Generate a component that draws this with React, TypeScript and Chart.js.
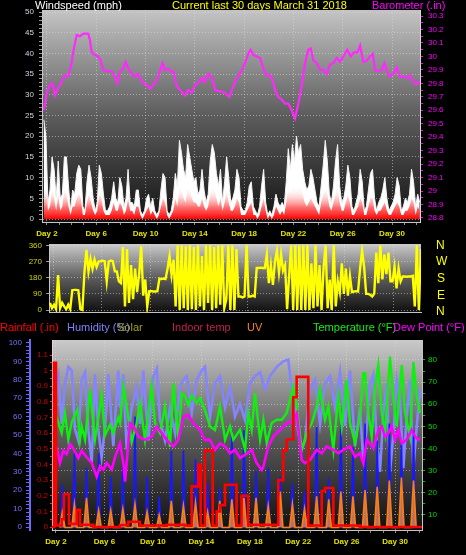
import React, { useEffect, useRef } from "react";
import { Chart, registerables } from "chart.js";

Chart.register(...registerables);
Chart.defaults.font.family = "'Liberation Sans', Arial, sans-serif";

// ---------- axis labels ----------
const DAY_TICKS = [2, 6, 10, 14, 18, 22, 26, 30];
const DAY_MINOR = [2, 3, 4, 5, 6, 7, 8, 9, 10, 11, 12, 13, 14, 15, 16, 17, 18, 19, 20, 21, 22, 23, 24, 25, 26, 27, 28, 29, 30, 31, 32];
const WIND_TICKS = [0, 5, 10, 15, 20, 25, 30, 35, 40, 45, 50];
const BARO_TICKS = [28.8, 28.9, 29, 29.1, 29.2, 29.3, 29.4, 29.5, 29.6, 29.7, 29.8, 29.9, 30, 30.1, 30.2, 30.3];
const DIR_TICKS = [0, 90, 180, 270, 360];
const HUM_TICKS = [0, 10, 20, 30, 40, 50, 60, 70, 80, 90, 100];
const RAIN_TICKS = [0, 0.1, 0.2, 0.3, 0.4, 0.5, 0.6, 0.7, 0.8, 0.9, 1, 1.1];
const TEMP_TICKS = [10, 20, 30, 40, 50, 60, 70, 80];

// ---------- 4-hourly samples (day of March) ----------
const SAMPLE_START = 1.75;
const SAMPLE_STEP = 1 / 6;

const windGust = [
  24, 20, 4, 7, 15, 12, 5, 14, 5, 6, 15, 15, 8, 2, 7, 6, 11, 13, 12, 3,
  2, 9, 13, 10, 5, 2, 4, 13, 11, 6, 2, 2, 3, 5, 9, 5, 4, 10, 8, 3,
  5, 12, 4, 4, 3, 7, 7, 2, 1, 2, 5, 6, 3, 5, 2, 1, 2, 7, 11, 10,
  2, 1, 2, 5, 11, 8, 19, 16, 12, 10, 18, 15, 12, 9, 10, 6, 7, 12, 7, 4,
  6, 14, 18, 16, 11, 8, 12, 4, 9, 15, 10, 4, 5, 7, 12, 10, 3, 2, 2, 4,
  8, 9, 3, 2, 1, 3, 8, 12, 4, 1, 2, 1, 3, 6, 4, 3, 4, 3, 9, 17,
  12, 18, 14, 20, 16, 18, 12, 9, 7, 8, 12, 10, 7, 4, 3, 8, 13, 19, 14, 6,
  4, 8, 14, 18, 8, 4, 5, 8, 13, 10, 3, 2, 4, 6, 12, 9, 2, 3, 7, 11,
  12, 5, 2, 4, 5, 7, 10, 5, 2, 3, 4, 6, 10, 8, 2, 3, 5, 4, 6, 12,
  9, 3, 6, 4,
];
const windSpeed = [
  14, 10, 2, 3, 7, 5, 2, 6, 2, 3, 7, 6, 3, 1, 3, 3, 5, 6, 5, 1,
  1, 4, 6, 4, 2, 1, 2, 6, 5, 2, 1, 1, 1, 2, 4, 2, 2, 4, 3, 1,
  2, 5, 2, 2, 1, 3, 3, 1, 0, 1, 2, 3, 1, 2, 1, 0, 1, 3, 5, 4,
  1, 0, 1, 2, 5, 3, 8, 7, 5, 4, 8, 7, 5, 4, 4, 3, 3, 5, 3, 2,
  3, 6, 8, 7, 5, 3, 5, 2, 4, 7, 4, 2, 2, 3, 5, 4, 1, 1, 1, 2,
  3, 4, 1, 1, 0, 1, 3, 5, 2, 0, 1, 0, 1, 3, 2, 1, 2, 1, 4, 8,
  6, 9, 7, 10, 8, 9, 6, 4, 3, 4, 5, 4, 3, 2, 1, 4, 6, 9, 6, 3,
  2, 4, 6, 8, 4, 2, 2, 4, 6, 4, 1, 1, 2, 3, 5, 4, 1, 1, 3, 5,
  5, 2, 1, 2, 2, 3, 4, 2, 1, 1, 2, 3, 4, 3, 1, 1, 2, 2, 3, 5,
  4, 1, 3, 2,
];
const windDir = [
  40, 10, 30, 5, 195, 10, 40, 20, 5, 30, 5, 110, 112, 112, 110, 5, 0, 210, 335, 215,
  285, 230, 280, 240, 270, 272, 275, 272, 160, 270, 275, 272, 215, 215, 160, 150, 350, 20, 340, 40,
  250, 60, 230, 100, 200, 355, 80, 170, 20, 105, 105, 103, 103, 105, 175, 172, 175, 172, 230, 300,
  195, 280, 20, 360, 0, 360, 10, 355, 0, 360, 5, 350, 0, 360, 20, 300, 0, 360, 40, 360,
  0, 350, 10, 360, 30, 360, 10, 60, 360, 0, 360, 0, 340, 75, 75, 70, 75, 360, 75, 75,
  80, 75, 234, 234, 236, 234, 234, 310, 150, 250, 140, 270, 330, 210, 310, 220, 250, 5, 190, 360,
  0, 360, 0, 360, 0, 360, 0, 360, 0, 260, 10, 360, 20, 250, 0, 240, 360, 10, 170, 0,
  360, 20, 160, 100, 260, 90, 230, 80, 190, 100, 103, 105, 103, 230, 330, 240, 90, 90, 85, 75,
  92, 320, 150, 360, 170, 310, 200, 320, 160, 160, 240, 120, 230, 160, 187, 187, 185, 187, 187, 190,
  20, 360, 0, 340,
];

// ---------- barometer ----------
const baroDays = [
  1.76, 1.98, 2.24, 2.46, 2.65, 2.92, 3.19, 3.46, 3.73, 4.0, 4.13, 4.41, 4.68, 4.95, 5.35, 5.49, 5.63, 5.9, 6.16, 6.36,
  6.57, 6.85, 7.25, 7.52, 7.71, 7.93, 8.19, 8.39, 8.6, 8.88, 9.14, 9.41, 9.69, 10.09, 10.36, 10.63, 10.9, 11.17, 11.39, 11.58,
  11.85, 12.04, 12.25, 12.53, 12.8, 13.2, 13.47, 13.75, 14.01, 14.28, 14.56, 14.82, 15.09, 15.37, 15.64, 16.04, 16.45, 16.8, 17.26, 17.53,
  17.8, 18.07, 18.34, 18.53, 18.75, 19.02, 19.29, 19.56, 19.83, 20.1, 20.32, 20.51, 20.77, 21.05, 21.32, 21.59, 21.86, 22.13, 22.4, 22.67,
  22.94, 23.21, 23.4, 23.62, 23.89, 24.16, 24.43, 24.7, 24.97, 25.24, 25.51, 25.78, 26.05, 26.37, 26.65, 26.92, 27.19, 27.41, 27.67, 27.95,
  28.22, 28.44, 28.62, 28.89, 29.17, 29.38, 29.57, 29.78, 30.11, 30.38, 30.65, 30.92, 31.2, 31.46, 31.73, 31.95, 32.22,
];
const baroValues = [
  29.6, 29.73, 29.79, 29.8, 29.71, 29.77, 29.81, 29.86, 29.85, 29.95, 30.03, 30.16, 30.15, 30.17, 30.17, 30.12, 30.03, 30.01, 30.0, 29.97,
  29.9, 29.89, 29.89, 29.85, 29.8, 29.89, 29.91, 29.96, 29.91, 29.87, 29.85, 29.87, 29.81, 29.79, 29.76, 29.79, 29.82, 29.89, 29.95, 29.9,
  29.91, 29.89, 29.89, 29.78, 29.75, 29.71, 29.75, 29.73, 29.79, 29.8, 29.84, 29.81, 29.87, 29.85, 29.75, 29.74, 29.73, 29.7, 29.81, 29.86,
  29.89, 29.95, 30.02, 30.05, 30.01, 30.0, 29.99, 29.91, 29.86, 29.86, 29.82, 29.75, 29.7, 29.68, 29.65, 29.65, 29.6, 29.54, 29.65, 29.78,
  29.95, 30.05, 30.06, 29.97, 29.95, 29.9, 29.9, 29.87, 29.94, 29.95, 29.99, 29.96, 30.0, 30.05, 30.0, 30.03, 30.03, 30.08, 29.96, 29.97,
  30.0, 30.02, 29.9, 29.89, 29.9, 29.95, 29.9, 29.85, 29.87, 29.92, 29.85, 29.85, 29.84, 29.86, 29.81, 29.79, 29.82,
];

// ---------- temperature / dew point / humidity ----------
const tempDays = [
  1.78, 2.06, 2.47, 2.74, 3.02, 3.3, 3.76, 3.98, 4.12, 4.4, 4.58, 4.81, 5.22, 5.55, 5.77, 6.05, 6.46, 6.73, 7.14, 7.29,
  7.56, 7.84, 8.25, 8.66, 8.94, 9.35, 9.9, 10.18, 10.59, 11.0, 11.41, 11.69, 12.1, 12.38, 12.65, 12.93, 13.21, 13.62, 13.89, 14.3,
  14.72, 15.13, 15.54, 15.96, 16.37, 16.64, 17.19, 17.61, 17.88, 18.16, 18.43, 18.85, 19.12, 19.4, 19.81, 20.23, 20.64, 21.05, 21.46, 21.6,
  21.88, 22.29, 22.7, 23.12, 23.53, 23.8, 24.21, 24.49, 24.9, 25.31, 25.59, 26.01, 26.28, 26.69, 27.1, 27.38, 27.52, 27.79, 28.07, 28.34,
  28.61, 28.9, 29.17, 29.58, 29.85, 30.13, 30.55, 30.82, 31.23, 31.51, 31.79, 32.06,
];
const tempValues = [
  50.6, 54, 47, 56, 44, 52, 57.5, 44, 50, 44, 54, 66.5, 44, 56, 64, 46, 50.7, 47, 54, 51.6,
  68, 59, 43, 51.5, 60.6, 44, 68, 51.5, 47, 59, 40.8, 69.5, 44, 65, 63.5, 59.7, 64, 60.6, 62.8, 57.4,
  49.9, 48.4, 59, 44, 50, 44, 48.4, 39.4, 56, 48.4, 65, 44, 53, 42.5, 51.5, 53, 53, 56, 65, 68,
  59, 39.4, 47, 51.5, 59, 66.5, 53, 59, 39.4, 63.5, 50, 71, 51.5, 42.5, 54.6, 74, 74, 56, 45.4, 68,
  77.7, 56, 47, 81.5, 63.4, 50, 77.7, 56, 45.4, 79, 63.4, 56,
];
const dewDays = [
  1.78, 2.06, 2.33, 2.6, 2.88, 3.16, 3.43, 3.84, 4.12, 4.54, 4.95, 5.36, 5.63, 5.91, 6.19, 6.6, 6.87, 7.29, 7.56, 7.7,
  8.11, 8.38, 8.8, 9.35, 9.9, 10.31, 10.73, 11.14, 11.69, 12.1, 12.51, 12.93, 13.34, 13.89, 14.3, 14.72, 15.13, 15.54, 15.96, 16.37,
  16.78, 17.19, 17.61, 18.16, 18.57, 18.99, 19.12, 19.53, 19.94, 20.5, 21.05, 21.6, 21.88, 22.29, 22.56, 22.97, 23.53, 23.94, 24.35, 24.9,
  25.31, 25.72, 26.28, 26.69, 27.1, 27.38, 27.66, 27.93, 28.2, 28.61, 28.9, 29.17, 29.44, 29.72, 29.99, 30.27, 30.55, 30.96, 31.37, 31.65,
  31.92, 32.06,
];
const dewValues = [
  41.6, 40.6, 33.5, 39, 37.5, 42, 40, 35.7, 39, 36, 33.5, 27.3, 32, 30.5, 33.5, 30.5, 36, 42.4, 33.4, 25,
  51.4, 50.3, 45.4, 43.9, 45.4, 49.9, 47, 43.9, 40.9, 43.9, 54.4, 55.1, 51.4, 48.4, 43.9, 43.9, 39.4, 42.4, 40.9, 37.9,
  39.4, 35.7, 37.1, 39.4, 33.4, 30.3, 31.8, 40.9, 45.4, 48.4, 51.4, 52.8, 55.8, 34.8, 33.4, 34.8, 39.4, 37.9, 40.9, 39.4,
  37.9, 39.4, 40.9, 36.3, 37.9, 33.3, 43.9, 42.4, 40.1, 48.4, 50, 45.4, 46.9, 50, 43.9, 48.4, 42.4, 43.9, 48.4, 45.4,
  43.9, 44.6,
];
const humDays = [
  1.78, 2.19, 2.47, 2.74, 3.02, 3.3, 3.57, 3.84, 4.12, 4.4, 4.67, 4.95, 5.22, 5.49, 5.77, 6.05, 6.32, 6.73, 7.14, 7.29,
  7.56, 7.84, 8.25, 8.66, 8.94, 9.21, 9.63, 10.04, 10.32, 10.59, 11.0, 11.41, 11.83, 12.24, 12.51, 12.79, 13.21, 13.62, 14.03, 14.3,
  14.72, 15.13, 15.54, 15.96, 16.37, 16.78, 17.19, 17.61, 18.02, 18.43, 18.85, 19.26, 19.67, 20.23, 20.77, 21.18, 21.46, 21.73, 22.01, 22.29,
  22.56, 22.97, 23.39, 23.8, 24.21, 24.63, 25.04, 25.45, 25.86, 26.28, 26.69, 27.1, 27.38, 27.66, 27.93, 28.2, 28.48, 28.75, 29.03, 29.31,
  29.58, 29.85, 30.13, 30.4, 30.68, 30.96, 31.23, 31.51, 31.79, 32.06,
];
const humValues = [
  74, 83, 56, 78, 87, 85, 53, 47, 80, 84, 53, 35, 83, 53, 38, 54, 83, 44, 85, 65,
  83, 42, 65, 76, 56, 85, 47, 82, 86, 58, 47, 65, 51, 76, 80, 82, 62, 80, 85, 87,
  60, 78, 82, 65, 76, 60, 67, 58, 78, 82, 84, 75, 82, 87, 90, 91, 75, 71, 51, 42,
  47, 75, 80, 56, 78, 82, 65, 84, 55, 85, 44, 65, 35, 55, 78, 83, 47, 30, 62, 78,
  30, 50, 80, 70, 32, 60, 80, 32, 55, 75,
];

// ---------- rainfall (step) ----------
const rainDays = [
  1.67, 1.84, 2.0, 2.47, 2.66, 3.07, 3.71, 3.98, 5.08, 7.28, 7.97, 8.93, 11.14, 12.65, 13.2, 13.75, 13.95, 14.3,
  14.94, 15.27, 15.54, 15.95, 16.91, 17.32, 17.87, 20.35, 20.76, 21.04, 21.59, 21.87, 22.83, 23.94, 24.21, 24.9, 27.1, 32.22,
];
const rainValues = [
  0, 1.05, 0.01, 0.05, 0.21, 0.02, 0.11, 0.015, 0, 0.013, 0.034, 0.01, 0.015, 0.01, 0.26, 0.4, 0.01, 0.49,
  0.01, 0.1, 0.14, 0.27, 0.01, 0.2, 0.015, 0.3, 0.49, 0.56, 0.83, 0.96, 0.01, 0.23, 0.25, 0.01, 0, 0,
];

// ---------- solar / UV daily peaks (Day 2 .. Day 31) ----------
const SUN_DAYS = [2, 3, 4, 5, 6, 7, 8, 9, 10, 11, 12, 13, 14, 15, 16, 17, 18, 19, 20, 21, 22, 23, 24, 25, 26, 27, 28, 29, 30, 31];
const solarPeaks = [250, 435, 350, 435, 300, 400, 650, 300, 180, 450, 450, 400, 260, 230, 570, 570, 335, 350, 300, 260, 215, 590, 290, 610, 470, 610, 510, 610, 510, 570];
const uvPeaks = [1.0, 1.5, 1.9, 1.1, 1.1, 1.2, 1.5, 1.0, 0.8, 1.7, 1.4, 1.6, 1.0, 1.7, 1.8, 1.9, 1.9, 1.4, 2.3, 1.5, 1.2, 2.0, 1.8, 2.3, 2.0, 2.4, 2.6, 3.0, 3.2, 3.0];
const SOLAR_WINDOW = [0.38, 0.52, 0.66];
const UV_WINDOW = [0.3, 0.52, 0.74];

// ---------- helpers ----------
const W = 466;
const H = 555;
const GRID = "rgba(220,220,220,0.55)";

const pts = (xs: number[], ys: number[]) => xs.map((x, i) => ({ x, y: ys[i] }));
const samples = (vals: number[]) => vals.map((v, i) => ({ x: SAMPLE_START + i * SAMPLE_STEP, y: v }));
const daylight = (peaks: number[], win: number[]) =>
  SUN_DAYS.flatMap((d, i) => [
    { x: d + win[0], y: 0 },
    { x: d + win[1], y: peaks[i] },
    { x: d + win[2], y: 0 },
  ]);

function tickList(major: number[], step: number) {
  const out: number[] = [];
  const a = major[0];
  const n = Math.round((major[major.length - 1] - a) / step);
  for (let k = 0; k <= n; k++) out.push(Math.round((a + k * step) * 1000) / 1000);
  return out;
}
const isMajor = (major: number[], v: number) => major.some((m) => Math.abs(m - v) < 1e-6);

function xAxis(min: number, max: number, height: number, labels: boolean) {
  return {
    type: "linear",
    position: "bottom",
    min,
    max,
    afterBuildTicks: (s: any) => {
      s.ticks = DAY_MINOR.map((v) => ({ value: v }));
    },
    afterFit: (s: any) => {
      s.height = height;
    },
    ticks: {
      display: labels,
      autoSkip: false,
      maxRotation: 0,
      color: "#e2e200",
      padding: 4,
      font: { size: 8, weight: "bold" },
      callback: (v: number) => (DAY_TICKS.includes(v) ? "Day " + v : ""),
    },
    grid: {
      color: (c: any) => (c.tick && DAY_TICKS.includes(c.tick.value) ? GRID : "transparent"),
      tickColor: "#8a8a8a",
      tickLength: 3,
      drawTicks: labels,
      lineWidth: 1,
    },
    border: { display: true, color: "#c4c4c4", dash: [1, 2] },
  };
}

function yAxis(o: any) {
  const all = o.minorStep ? tickList(o.major, o.minorStep) : o.major;
  return {
    type: "linear",
    position: o.position,
    weight: o.weight || 0,
    min: o.min,
    max: o.max,
    afterBuildTicks: (s: any) => {
      s.ticks = all.map((v: number) => ({ value: v }));
    },
    afterFit: (s: any) => {
      s.width = o.width;
    },
    ticks: {
      autoSkip: false,
      color: o.color,
      padding: o.pad,
      font: { size: 8 },
      callback: (v: number) => (isMajor(o.major, v) ? String(Number(v.toFixed(2))) : ""),
    },
    grid: {
      drawOnChartArea: !!o.grid,
      color: (c: any) => (o.grid && c.tick && isMajor(o.major, c.tick.value) ? GRID : "transparent"),
      tickColor: o.tickColor,
      tickLength: o.tickLen,
      lineWidth: 1,
    },
    border: { display: true, color: o.borderColor, width: o.borderWidth || 1, dash: [1, 2] },
  };
}

function panelBg(top: string, bottom: string) {
  return {
    id: "panelBg",
    beforeDraw(chart: any) {
      const { ctx, chartArea: a } = chart;
      if (!a) return;
      const g = ctx.createLinearGradient(0, a.top, 0, a.bottom);
      g.addColorStop(0, top);
      g.addColorStop(0.5, "#5c5c5c");
      g.addColorStop(1, bottom);
      ctx.save();
      ctx.fillStyle = g;
      ctx.fillRect(a.left, a.top, a.right - a.left, a.bottom - a.top);
      ctx.restore();
    },
  };
}

const baseOptions = (padding: any) => ({
  animation: false,
  responsive: false,
  events: [],
  layout: { padding },
  plugins: { legend: { display: false }, tooltip: { enabled: false }, title: { display: false } },
});

const redGradient = (c: any) => {
  const chart = c.chart;
  if (!chart.chartArea) return "#ff0000";
  const s = chart.scales.wind;
  const g = chart.ctx.createLinearGradient(0, s.getPixelForValue(0), 0, s.getPixelForValue(8));
  g.addColorStop(0, "rgba(255,0,0,1)");
  g.addColorStop(0.35, "rgba(255,60,60,0.75)");
  g.addColorStop(1, "rgba(255,255,255,0)");
  return g;
};

function Label(p: { x: number; y: number; color: string; size?: number; children: any }) {
  return (
    <span
      style={{
        position: "absolute",
        left: p.x,
        top: p.y,
        color: p.color,
        fontSize: p.size || 11,
        lineHeight: (p.size || 11) + "px",
        whiteSpace: "nowrap",
        fontFamily: "'Liberation Sans', Arial, sans-serif",
      }}
    >
      {p.children}
    </span>
  );
}

export default function App() {
  const r1 = useRef<HTMLCanvasElement>(null);
  const r2 = useRef<HTMLCanvasElement>(null);
  const r3 = useRef<HTMLCanvasElement>(null);

  useEffect(() => {
    const top = new Chart(r1.current as HTMLCanvasElement, {
      type: "line",
      data: {
        datasets: [
          { label: "Barometer", data: pts(baroDays, baroValues), yAxisID: "baro", borderColor: "#ff28ff", borderWidth: 2.2, pointRadius: 0, fill: false },
          { label: "Wind speed", data: samples(windSpeed), yAxisID: "wind", borderColor: "rgba(255,40,40,0)", borderWidth: 0, backgroundColor: redGradient, fill: "origin", pointRadius: 0 },
          { label: "Wind gust", data: samples(windGust), yAxisID: "wind", borderColor: "#f4f4f4", borderWidth: 1, backgroundColor: "#ffffff", fill: "origin", pointRadius: 0 },
        ],
      },
      options: {
        ...baseOptions({ top: 10, left: 0, right: 0, bottom: 0 }),
        scales: {
          x: xAxis(1.6, 32.27, 333, true),
          wind: yAxis({ position: "left", min: -0.72, max: 50.5, width: 42, major: WIND_TICKS, minorStep: 1, color: "#d4d4e6", tickColor: "#9a9a9a", pad: 5, tickLen: 3, grid: true, borderColor: "#c4c4c4" }),
          baro: yAxis({ position: "right", min: 28.77, max: 30.345, width: 46, major: BARO_TICKS, minorStep: 0.05, color: "#ff00ff", tickColor: "#ff00ff", pad: 5, tickLen: 3, borderColor: "#d8d8d8" }),
        },
      } as any,
      plugins: [panelBg("#c4c4c4", "#121212")],
    });

    const mid = new Chart(r2.current as HTMLCanvasElement, {
      type: "line",
      data: {
        datasets: [
          { label: "Wind direction", data: samples(windDir), yAxisID: "dir", borderColor: "#ffff00", borderWidth: 2.4, pointRadius: 0, fill: false },
        ],
      },
      options: {
        ...baseOptions({ top: 244, left: 0, right: 45, bottom: 0 }),
        scales: {
          x: xAxis(1.67, 32.26, 243, false),
          dir: yAxis({ position: "left", min: -11, max: 367.5, width: 49, major: DIR_TICKS, color: "#d2d200", tickColor: "#9a9a9a", pad: 4, tickLen: 3, grid: true, borderColor: "#c4c4c4" }),
        },
      } as any,
      plugins: [panelBg("#cacaca", "#101010")],
    });

    const bot = new Chart(r3.current as HTMLCanvasElement, {
      type: "line",
      data: {
        datasets: [
          { label: "Rainfall", data: pts(rainDays, rainValues), yAxisID: "rain", stepped: "before", borderColor: "#ff0000", borderWidth: 2.6, pointRadius: 0, fill: false },
          { label: "Dew Point", data: pts(dewDays, dewValues), yAxisID: "temp", borderColor: "#ff00ff", borderWidth: 2.6, pointRadius: 0, fill: false },
          { label: "Temperature", data: pts(tempDays, tempValues), yAxisID: "temp", borderColor: "#10f010", borderWidth: 2.4, pointRadius: 0, fill: false },
          { label: "UV", data: daylight(uvPeaks, UV_WINDOW), yAxisID: "uv", borderColor: "#ff8000", borderWidth: 1.6, backgroundColor: "rgba(225,135,110,0.8)", fill: "origin", pointRadius: 0 },
          { label: "Solar", data: daylight(solarPeaks, SOLAR_WINDOW), yAxisID: "solar", borderColor: "#1818ff", borderWidth: 1.6, pointRadius: 0, fill: false },
          { label: "Humidity", data: pts(humDays, humValues), yAxisID: "hum", borderColor: "#8484ff", borderWidth: 2.6, pointRadius: 0, fill: false },
        ],
      },
      options: {
        ...baseOptions({ top: 340, left: 0, right: 0, bottom: 0 }),
        scales: {
          x: xAxis(1.67, 32.22, 25, true),
          hum: yAxis({ position: "left", weight: 2, min: -1.6, max: 101.6, width: 30, major: HUM_TICKS, minorStep: 2, color: "#7474ff", tickColor: "#6a6aff", pad: 4, tickLen: 4, borderColor: "#6a6aff", borderWidth: 2 }),
          rain: yAxis({ position: "left", weight: 1, min: -0.019, max: 1.196, width: 22, major: RAIN_TICKS, minorStep: 0.05, color: "#cc0000", tickColor: "#ff2a2a", pad: 2, tickLen: 2, borderColor: "#f0d0d0" }),
          temp: yAxis({ position: "right", min: 3.2, max: 89, width: 44, major: TEMP_TICKS, minorStep: 5, color: "#00dc00", tickColor: "#00c800", pad: 3, tickLen: 3, grid: true, borderColor: "#c4c4c4" }),
          uv: { display: false, min: -0.16, max: 12 },
          solar: { display: false, min: -16, max: 1100 },
        },
      } as any,
      plugins: [panelBg("#cacaca", "#101010")],
    });

    return () => {
      top.destroy();
      mid.destroy();
      bot.destroy();
    };
  }, []);

  const canvasStyle: any = { position: "absolute", left: 0, top: 0, width: W, height: H };

  return (
    <div style={{ position: "fixed", left: 0, top: 0, width: W, height: H, background: "#000", overflow: "hidden" }}>
      <canvas ref={r1} width={W} height={H} style={canvasStyle} />
      <canvas ref={r2} width={W} height={H} style={canvasStyle} />
      <canvas ref={r3} width={W} height={H} style={canvasStyle} />

      <Label x={35} y={0} color="#ffffff">Windspeed (mph)</Label>
      <Label x={172} y={0} color="#ffff00">Current last 30 days March 31 2018</Label>
      <Label x={372} y={0} color="#ff00ff">Barometer (.in)</Label>

      <Label x={436} y={239} color="#ffff00" size={12}>N</Label>
      <Label x={436} y={255} color="#ffff00" size={12}>W</Label>
      <Label x={437} y={272} color="#ffff00" size={12}>S</Label>
      <Label x={437} y={289} color="#ffff00" size={12}>E</Label>
      <Label x={436} y={305} color="#ffff00" size={12}>N</Label>

      <Label x={0} y={322} color="#ff0000">Rainfall (.in)</Label>
      <Label x={67} y={322} color="#8080ff">Humidity (%)</Label>
      <Label x={117} y={322} color="#a0a020">Solar</Label>
      <Label x={172} y={322} color="#c81e50">Indoor temp</Label>
      <Label x={247} y={322} color="#ff8020">UV</Label>
      <Label x={313} y={322} color="#10f010">Temperature (°F)</Label>
      <Label x={393} y={322} color="#ff00ff">Dew Point (°F)</Label>
    </div>
  );
}
